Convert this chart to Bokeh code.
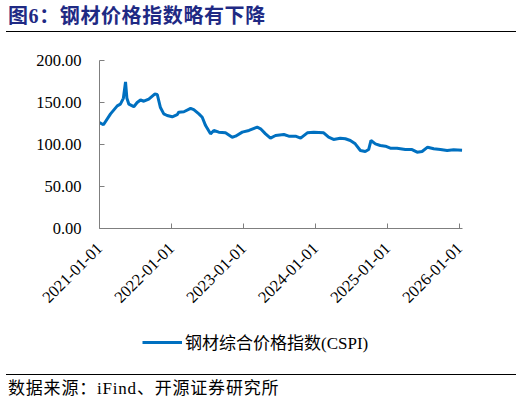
import pandas as pd
from bokeh.plotting import figure
from bokeh.models import (Range1d, FixedTicker, PrintfTickFormatter, Legend,
                          LegendItem, Div, ColumnDataSource)
from bokeh.layouts import column
from bokeh.embed import file_html
from bokeh.resources import INLINE
from math import pi

# 钢材综合价格指数(CSPI)
dates = [
    "2021-01-01", "2021-01-21", "2021-02-26", "2021-04-01", "2021-04-17",
    "2021-05-02", "2021-05-13", "2021-05-20", "2021-05-30", "2021-06-24",
    "2021-07-11", "2021-07-28", "2021-08-14", "2021-09-08", "2021-10-08",
    "2021-10-21", "2021-11-06", "2021-11-23", "2021-12-10", "2022-01-05",
    "2022-01-30", "2022-02-07", "2022-03-05", "2022-04-08", "2022-04-24",
    "2022-05-20", "2022-06-06", "2022-06-23", "2022-07-18", "2022-08-04",
    "2022-08-29", "2022-10-02", "2022-11-05", "2022-11-22", "2022-12-26",
    "2023-01-29", "2023-03-12", "2023-03-29", "2023-04-23", "2023-05-18",
    "2023-06-13", "2023-07-25", "2023-08-19", "2023-09-22", "2023-10-18",
    "2023-11-21", "2023-12-24", "2024-02-12", "2024-03-08", "2024-04-02",
    "2024-05-06", "2024-06-01", "2024-06-26", "2024-07-21", "2024-08-16",
    "2024-09-10", "2024-09-27", "2024-10-09", "2024-10-31", "2024-11-25",
    "2024-12-21", "2025-01-15", "2025-02-18", "2025-04-01", "2025-05-05",
    "2025-05-31", "2025-06-25", "2025-07-23", "2025-08-23", "2025-09-26",
    "2025-10-30", "2025-12-02", "2026-01-14",
]
cspi = [
    126.0, 123.5, 136.5, 146.0, 148.0,
    155.0, 174.5, 155.0, 148.0, 145.0,
    150.0, 153.0, 151.5, 154.0, 160.0,
    159.5, 144.0, 136.5, 134.5, 133.0,
    135.5, 138.5, 139.0, 143.0, 141.5,
    136.5, 132.5, 122.5, 112.7, 116.7,
    114.7, 113.9, 108.7, 109.9, 114.7,
    116.7, 120.6, 118.7, 112.7, 107.5,
    110.7, 111.9, 109.9, 109.9, 107.5,
    113.9, 114.7, 113.9, 108.7, 106.0,
    107.5, 106.8, 104.8, 100.8, 92.9,
    91.7, 94.0, 104.8, 100.8, 98.8,
    98.0, 95.6, 95.6, 94.0, 94.0,
    90.9, 91.7, 96.8, 94.9, 94.0,
    92.9, 93.7, 93.2,
]
x_ticks = ["2021-01-01", "2022-01-01", "2023-01-01", "2024-01-01",
           "2025-01-01", "2026-01-01"]
y_ticks = [0, 50, 100, 150, 200]

title_text = "图6：钢材价格指数略有下降"
series_name = "钢材综合价格指数(CSPI)"
source_text = "数据来源：iFind、开源证券研究所"

FONT = "'Liberation Serif', 'Noto Sans CJK SC'"
LINE_COLOR = "#0070C0"

src = ColumnDataSource(data=dict(date=pd.to_datetime(dates), cspi=cspi))

# main chart
p = figure(
    width=520, height=286,
    x_axis_type="datetime",
    x_range=Range1d(pd.Timestamp("2021-01-01"), pd.Timestamp("2026-01-16")),
    y_range=Range1d(0, 200),
    output_backend="svg",
    toolbar_location=None,
    min_border_left=99, min_border_right=58,
    min_border_top=28, min_border_bottom=90,
)
p.outline_line_color = None
p.grid.visible = False

p.line("date", "cspi", source=src, line_color=LINE_COLOR, line_width=3)

tick_ms = [pd.Timestamp(t).value // 10**6 for t in x_ticks]
p.xaxis.ticker = FixedTicker(ticks=tick_ms)
p.xaxis.major_label_overrides = {ms: lab for ms, lab in zip(tick_ms, x_ticks)}
p.xaxis.major_label_orientation = pi / 4
p.xaxis.major_label_standoff = 17

p.yaxis.ticker = FixedTicker(ticks=y_ticks)
p.yaxis.formatter = PrintfTickFormatter(format="%.2f")
p.yaxis.major_label_standoff = 18

for ax in (p.xaxis, p.yaxis):
    ax.axis_line_color = "#7F7F7F"
    ax.major_tick_line_color = "#7F7F7F"
    ax.major_tick_in = 5
    ax.major_tick_out = 0
    ax.minor_tick_line_color = None
    ax.major_label_text_font = FONT
    ax.major_label_text_font_size = "16.5px"
    ax.major_label_text_color = "#000000"

# legend row: its own strip below the chart, the series line lies outside
# this strip's ranges so only the legend shows
lg = figure(
    width=520, height=53,
    x_range=Range1d(0, 1), y_range=Range1d(0, 1),
    output_backend="svg", toolbar_location=None,
    x_axis_location=None, y_axis_location=None,
    min_border=0,
)
lg.outline_line_color = None
lg.grid.visible = False
lr = lg.line("date", "cspi", source=src, line_color=LINE_COLOR, line_width=3)

legend = Legend(
    items=[LegendItem(label=series_name, renderers=[lr])],
    location=(43, 17),
    orientation="horizontal",
    glyph_width=40, label_standoff=3, padding=5, margin=0,
    border_line_color=None, background_fill_alpha=0,
    label_text_font=FONT, label_text_font_size="17px",
    label_text_color="#000000",
)
lg.add_layout(legend, "center")

title = Div(
    text=title_text,
    width=510, height=32, margin=(0, 4, 0, 6),
    styles={
        "box-sizing": "border-box",
        "border-bottom": "1.5px solid #000000",
        "padding": "6px 0 0 2px",
        "font-family": FONT,
        "font-size": "20px",
        "font-weight": "bold",
        "line-height": "20px",
        "letter-spacing": "0.6px",
        "color": "#1F2A84",
        "white-space": "nowrap",
    },
)
footer = Div(
    text=source_text,
    width=510, height=30, margin=(3, 4, 0, 6),
    styles={
        "box-sizing": "border-box",
        "border-top": "1.5px solid #000000",
        "padding": "4px 0 0 2px",
        "font-family": FONT,
        "font-size": "17px",
        "line-height": "20px",
        "letter-spacing": "0.8px",
        "color": "#000000",
        "white-space": "nowrap",
    },
)

layout = column(title, p, lg, footer, spacing=0)

open("out.html", "w").write(file_html(layout, INLINE))
